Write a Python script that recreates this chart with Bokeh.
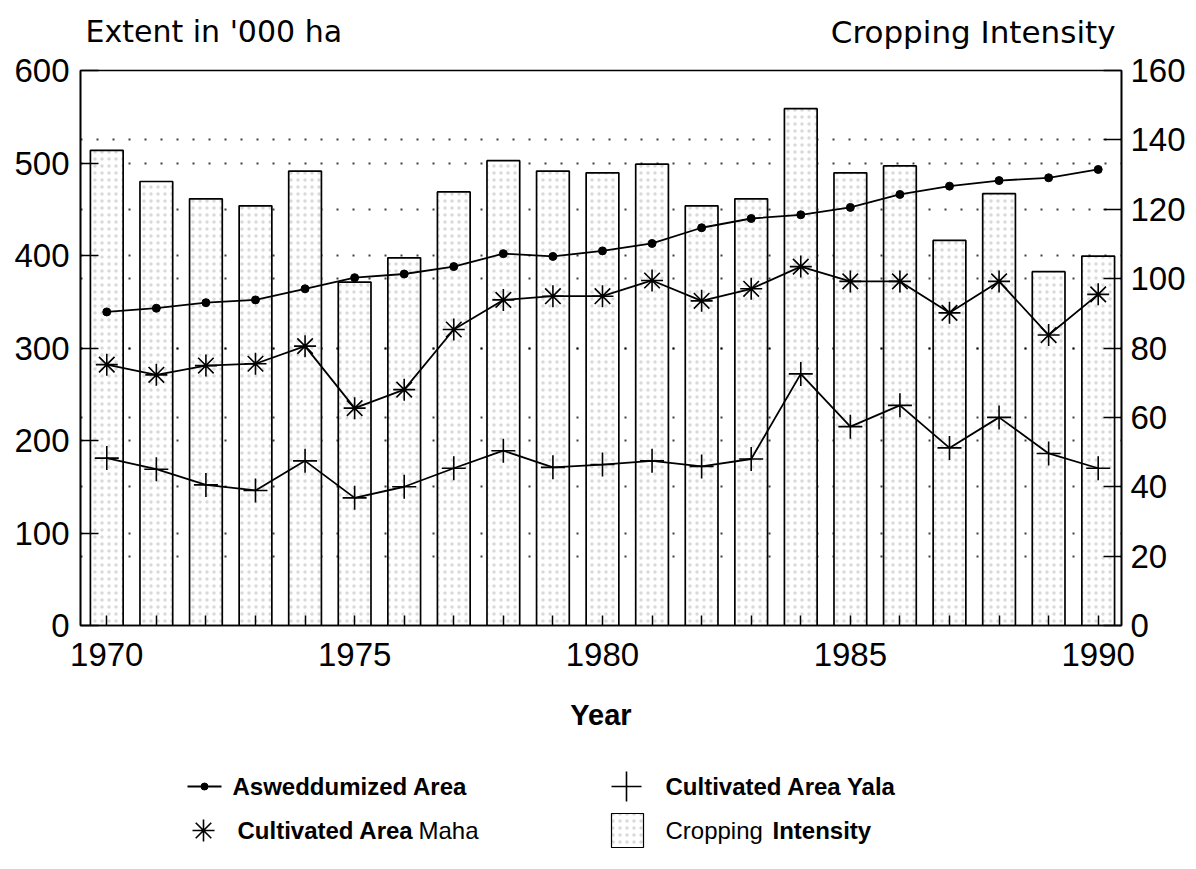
from bokeh.plotting import figure
from bokeh.models import Range1d, LinearAxis, FixedTicker, Grid
from bokeh.layouts import column
from bokeh.embed import file_html
from bokeh.resources import INLINE
from bokeh.core.properties import value

# ---------------- data ----------------
years = list(range(1970, 1991))
asweddumized = [339, 343, 349, 352, 364, 376, 380, 388, 402, 399, 405,
                413, 430, 440, 444, 452, 466, 475, 481, 484, 493]
maha = [282, 271, 281, 283, 302, 235, 255, 320, 352, 356, 356,
        373, 351, 364, 388, 372, 372, 338, 372, 314, 358]
yala = [181, 169, 152, 146, 178, 138, 150, 170, 189, 171, 174,
        178, 172, 180, 272, 215, 238, 192, 225, 186, 170]
cropping_intensity = [137, 128, 123, 121, 131, 99, 106, 125, 134, 131, 130.5,
                      133, 121, 123, 149, 130.5, 132.5, 111, 124.5, 102, 106.5]
left_ticks = [0, 100, 200, 300, 400, 500, 600]
right_ticks = [0, 20, 40, 60, 80, 100, 120, 140, 160]
left_grid = [100, 200, 300, 400, 500]
right_grid = [20, 40, 60, 80, 100, 120, 140]
labelled_years = [1970, 1975, 1980, 1985, 1990]

FONT = "Liberation Sans"
W = 1196
FRAME_L, FRAME_R = 80, 1121          # page x of the plot frame
HATCH = dict(hatch_pattern=".", hatch_color="#777777", hatch_alpha=0.28,
             hatch_scale=7, hatch_weight=1)

# ---------------- header (axis titles) ----------------
head = figure(width=W, height=50, x_range=Range1d(FRAME_L, FRAME_R),
              y_range=Range1d(50, 0), output_backend="svg",
              toolbar_location=None, x_axis_type=None, y_axis_type=None,
              min_border_left=FRAME_L, min_border_right=W - FRAME_R,
              min_border_top=0, min_border_bottom=0)
head.outline_line_color = None
head.xgrid.visible = False
head.ygrid.visible = False
head.text(x=[85], y=[31], text=["Extent in '000 ha"], text_font=value("DejaVu Sans"),
          text_font_size="30px", text_baseline="middle", text_align="left",
          text_color="black")
head.text(x=[1115], y=[31], text=["Cropping Intensity"], text_font=value("DejaVu Sans"),
          text_font_size="31px", text_baseline="middle", text_align="right",
          text_color="black")

# ---------------- main chart ----------------
p = figure(width=W, height=690,
           x_range=Range1d(1969.47, 1990.47), y_range=Range1d(0, 600),
           output_backend="svg", toolbar_location=None,
           min_border_left=FRAME_L, min_border_right=W - FRAME_R,
           min_border_top=20, min_border_bottom=115)
p.extra_y_ranges = {"ci": Range1d(0, 160)}
p.outline_line_color = "black"
p.outline_line_width = 1.6

# dotted grids for both axes
p.xgrid.visible = False
p.ygrid.ticker = FixedTicker(ticks=left_grid)
p.ygrid.grid_line_color = "black"
p.ygrid.grid_line_width = 2
p.ygrid.grid_line_dash = "2 14"
p.ygrid.grid_line_alpha = 0.75
g2 = Grid(dimension=1, ticker=FixedTicker(ticks=right_grid), y_range_name="ci",
          grid_line_color="black", grid_line_width=2, grid_line_dash="2 14",
          grid_line_alpha=0.75)
p.add_layout(g2)

# bars: cropping intensity on right axis
p.vbar(x=years, top=cropping_intensity, bottom=0, width=0.66, y_range_name="ci",
       fill_color="white", line_color="black", line_width=1.7, **HATCH)

# lines
p.line(years, asweddumized, line_color="black", line_width=1.8)
p.scatter(years, asweddumized, marker="circle", size=8, fill_color="black",
          line_color="black")
p.line(years, maha, line_color="black", line_width=1.8)
p.scatter(years, maha, marker="asterisk", size=22, line_color="black",
          line_width=1.6)
p.line(years, yala, line_color="black", line_width=1.8)
p.scatter(years, yala, marker="cross", size=24, line_color="black",
          line_width=1.6)

def style_axis(ax, tick_in):
    ax.axis_line_color = "black"
    ax.axis_line_width = 1.6
    ax.major_tick_line_color = "black"
    ax.major_tick_line_width = 1.5
    ax.major_tick_in = tick_in
    ax.major_tick_out = 0
    ax.minor_tick_line_color = None
    ax.major_label_text_font = FONT
    ax.major_label_text_font_size = "33px"
    ax.major_label_text_color = "black"

yax = p.yaxis[0]
yax.ticker = FixedTicker(ticks=left_ticks)
style_axis(yax, 18)
yax.major_label_standoff = 11

rax = LinearAxis(y_range_name="ci", ticker=FixedTicker(ticks=right_ticks))
style_axis(rax, 18)
rax.major_label_standoff = 9
p.add_layout(rax, "right")

xax = p.xaxis[0]
xax.ticker = FixedTicker(ticks=years)
style_axis(xax, 10)
xax.major_label_overrides = {y: (str(y) if y in labelled_years else "") for y in years}
xax.major_label_standoff = 17
xax.axis_label = "Year"
xax.axis_label_text_font = FONT
xax.axis_label_text_font_style = "bold"
xax.axis_label_text_font_size = "29px"
xax.axis_label_standoff = 30
xax.axis_label_text_color = "black"

# ---------------- legend (page-pixel coordinates) ----------------
leg = figure(width=W, height=125, x_range=Range1d(FRAME_L, FRAME_R),
             y_range=Range1d(865, 740), output_backend="svg",
             toolbar_location=None, x_axis_type=None, y_axis_type=None,
             min_border_left=FRAME_L, min_border_right=W - FRAME_R,
             min_border_top=0, min_border_bottom=0)
leg.outline_line_color = None
leg.xgrid.visible = False
leg.ygrid.visible = False

r1, r2 = 786, 830
leg.line([187, 221], [r1, r1], line_color="black", line_width=1.8)
leg.scatter([204], [r1], marker="circle", size=7, fill_color="black", line_color="black")
leg.scatter([626], [r1], marker="cross", size=30, line_color="black", line_width=1.6)
leg.scatter([203], [r2], marker="asterisk", size=22, line_color="black", line_width=1.6)
leg.quad(left=[611], right=[643], top=[813], bottom=[847], fill_color="white",
         line_color="black", line_width=1.2, **HATCH)

def txt(x, y, s, style="bold", size="24px"):
    leg.text(x=[x], y=[y], text=[s], text_font=value(FONT), text_font_style=style,
             text_font_size=size, text_baseline="middle", text_align="left",
             text_color="black")

txt(232, r1, "Asweddumized Area")
txt(665, r1, "Cultivated Area Yala")
txt(237, r2, "Cultivated Area")
txt(418, r2, "Maha", style="normal")
txt(665, r2, "Cropping", style="normal")
txt(772, r2, "Intensity")

layout = column(head, p, leg)
open("out.html", "w").write(file_html(layout, INLINE))
